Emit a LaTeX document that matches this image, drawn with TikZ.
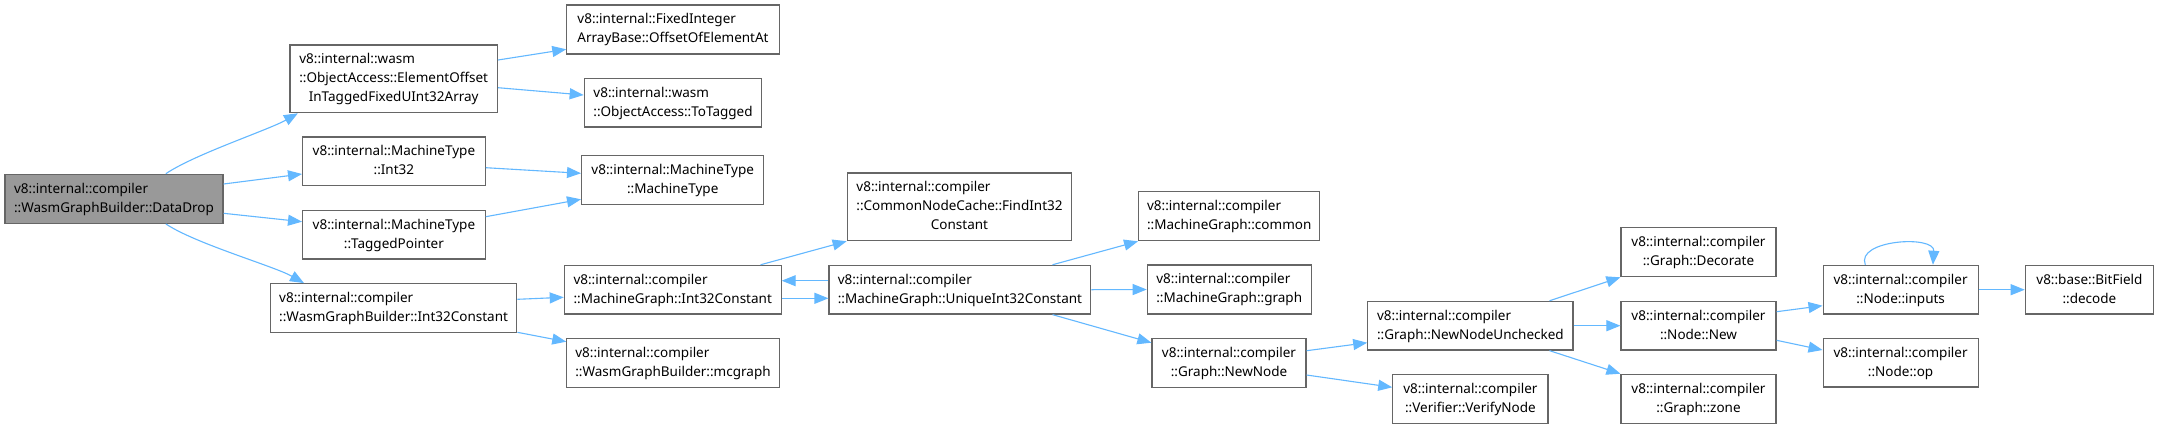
\documentclass[tikz,border=0pt]{standalone}
\usepackage{fontspec}
\setmainfont{Noto Sans}
\usetikzlibrary{arrows.meta}
\definecolor{edgec}{HTML}{63B8FF}
\definecolor{boxc}{HTML}{666666}
\definecolor{hlc}{HTML}{999999}
\newcommand\twol[2]{\begin{tabular}{@{}l@{}}#1\\\multicolumn{1}{@{}c@{}}{#2}\end{tabular}}
\tikzset{
  box/.style={draw=boxc,line width=1.2pt,fill=white,rectangle,inner sep=0pt,
    font=\fontsize{13.5}{19}\selectfont},
  hl/.style={box,fill=hlc},
  edge/.style={draw=edgec,line width=1.1pt,-{Triangle[length=14pt,width=11pt]}}
}
\newcommand\dnode[7][box]{\node[#1,minimum width=#5pt,minimum height=#6pt] (#2) at (#3pt,-#4pt) {#7};}
\begin{document}
\begin{tikzpicture}
\fill[white] (0,0) rectangle (2159pt,-429pt);
\useasboundingbox (0,0) rectangle (2159pt,-429pt);
\dnode[hl]{dd}{114}{198.8}{218}{49}{\twol{v8::internal::compiler}{::WasmGraphBuilder::DataDrop}}
\dnode{eo}{393.7}{78.8}{207.4}{67.7}{\twol{v8::internal::wasm\\::ObjectAccess::ElementOffset}{InTaggedFixedUInt32Array}}
\dnode{fi}{673}{29.5}{212.3}{49}{\twol{v8::internal::FixedInteger}{ArrayBase::OffsetOfElementAt}}
\dnode{tt}{673}{102.8}{177.5}{48.3}{\twol{v8::internal::wasm}{::ObjectAccess::ToTagged}}
\dnode{mti}{393.9}{161.3}{182.6}{48.7}{\twol{v8::internal::MachineType}{::Int32}}
\dnode{mtmt}{672.7}{180}{182.2}{48.6}{\twol{v8::internal::MachineType}{::MachineType}}
\dnode{tp}{393.9}{234.8}{182.6}{48.3}{\twol{v8::internal::MachineType}{::TaggedPointer}}
\dnode{wgb}{393.6}{308}{246.4}{48.6}{\twol{v8::internal::compiler}{::WasmGraphBuilder::Int32Constant}}
\dnode{mgi}{672.7}{289.7}{216.8}{48.7}{\twol{v8::internal::compiler}{::MachineGraph::Int32Constant}}
\dnode{mcg}{673}{363}{212.3}{48.6}{\twol{v8::internal::compiler}{::WasmGraphBuilder::mcgraph}}
\dnode{fic}{959.5}{206.8}{224.5}{67.7}{\twol{v8::internal::compiler\\::CommonNodeCache::FindInt32}{Constant}}
\dnode{uni}{959.9}{289.7}{261.7}{48.7}{\twol{v8::internal::compiler}{::MachineGraph::UniqueInt32Constant}}
\dnode{com}{1229.2}{216.2}{181.1}{49}{\twol{v8::internal::compiler}{::MachineGraph::common}}
\dnode{gr}{1229.2}{289.5}{163.8}{49}{\twol{v8::internal::compiler}{::MachineGraph::graph}}
\dnode{nn}{1229}{363}{154.1}{48.6}{\twol{v8::internal::compiler}{::Graph::NewNode}}
\dnode{nnu}{1470.4}{325.7}{205.2}{48.7}{\twol{v8::internal::compiler}{::Graph::NewNodeUnchecked}}
\dnode{vn}{1470.4}{398.8}{155.1}{49}{\twol{v8::internal::compiler}{::Verifier::VerifyNode}}
\dnode{dec}{1698.5}{252.2}{155}{49}{\twol{v8::internal::compiler}{::Graph::Decorate}}
\dnode{nnew}{1698.5}{325.7}{155}{48.7}{\twol{v8::internal::compiler}{::Node::New}}
\dnode{zone}{1698.5}{398.8}{155}{49}{\twol{v8::internal::compiler}{::Graph::zone}}
\dnode{inp}{1900.6}{289.7}{155}{48.7}{\twol{v8::internal::compiler}{::Node::inputs}}
\dnode{op}{1900.6}{362.7}{155}{48.7}{\twol{v8::internal::compiler}{::Node::op}}
\dnode{bf}{2089.4}{289.7}{128.2}{48.7}{\twol{v8::base::BitField}{::decode}}
% edges
\draw[edge] ([xshift=51.8pt]dd.north) .. controls +(30pt,20pt) and +(-30pt,-17pt) .. ([xshift=8.5pt]eo.south west);
\draw[edge] ([xshift=51.8pt]dd.south) .. controls +(30pt,-20pt) and +(-30pt,17pt) .. ([xshift=34.2pt]wgb.north west);
\draw[edge] ([yshift=14.8pt]dd.east) -- ([yshift=-12.7pt]mti.west);
\draw[edge] ([yshift=-14.5pt]dd.east) -- ([yshift=13.1pt]tp.west);
\draw[edge] ([yshift=18.8pt]eo.east) -- ([yshift=-19.8pt]fi.west);
\draw[edge] ([yshift=-8.9pt]eo.east) -- ([yshift=7.8pt]tt.west);
\draw[edge] ([yshift=-6.4pt]mti.east) -- ([yshift=6.7pt]mtmt.west);
\draw[edge] ([yshift=18.1pt]tp.east) -- ([yshift=-19.3pt]mtmt.west);
\draw[edge] ([yshift=8.7pt]wgb.east) -- ([yshift=-7.6pt]mgi.west);
\draw[edge] ([yshift=-24.3pt]wgb.east) -- ([yshift=21.3pt]mcg.west);
\draw[edge] ([xshift=-21.1pt]mgi.north east) -- (fic.south west);
\draw[edge] ([yshift=9pt]uni.west) -- ([yshift=9pt]mgi.east);
\draw[edge] ([yshift=-8.6pt]mgi.east) -- ([yshift=-8.6pt]uni.west);
\draw[edge] ([xshift=-38.8pt]uni.north east) -- (com.south west);
\draw[edge] (uni.east) -- (gr.west);
\draw[edge] ([xshift=-38.8pt]uni.south east) -- ([yshift=20.3pt]nn.west);
\draw[edge] ([yshift=12.3pt]nn.east) -- ([yshift=-17pt]nnu.west);
\draw[edge] ([yshift=-12pt]nn.east) -- ([yshift=11.5pt]vn.west);
\draw[edge] ([xshift=-24.1pt]nnu.north east) -- (dec.south west);
\draw[edge] (nnu.east) -- (nnew.west);
\draw[edge] ([xshift=-24.1pt]nnu.south east) -- (zone.north west);
\draw[edge] ([yshift=14pt]nnew.east) -- ([yshift=-16pt]inp.west);
\draw[edge] ([yshift=-14.6pt]nnew.east) -- ([yshift=12.7pt]op.west);
\draw[edge] (inp.east) -- (bf.west);
\draw[edge] ([xshift=-35.3pt]inp.north) .. controls +(-10pt,25pt) and +(2pt,30pt) .. ([xshift=32.3pt]inp.north);
\end{tikzpicture}
\end{document}
